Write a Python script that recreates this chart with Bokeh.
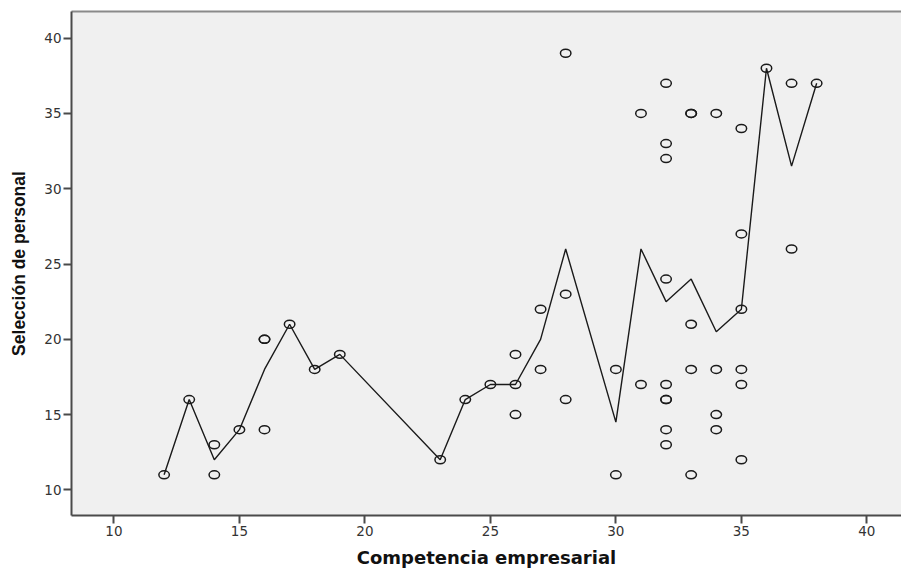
from bokeh.plotting import figure
from bokeh.models import Range1d, FixedTicker, LinearAxis
from bokeh.embed import file_html
from bokeh.resources import INLINE

# ---- data ----
x_points = [12, 13, 14, 14, 15, 16, 16, 16, 17, 18, 19, 23, 24, 25,
            26, 26, 26, 27, 27, 28, 28, 28, 30, 30, 31, 31,
            32, 32, 32, 32, 32, 32, 32, 32, 32,
            33, 33, 33, 33, 33, 34, 34, 34, 34,
            35, 35, 35, 35, 35, 35, 36, 37, 37, 38]
y_points = [11, 16, 13, 11, 14, 20, 20, 14, 21, 18, 19, 12, 16, 17,
            19, 17, 15, 22, 18, 39, 23, 16, 18, 11, 35, 17,
            37, 33, 32, 24, 17, 16, 16, 14, 13,
            35, 35, 21, 18, 11, 35, 18, 15, 14,
            34, 27, 22, 18, 17, 12, 38, 37, 26, 37]

line_x = [12, 13, 14, 15, 16, 17, 18, 19, 23, 24, 25, 26, 27, 28,
          30, 31, 32, 33, 34, 35, 36, 37, 38]
line_y = [11, 16, 12, 14, 18, 21, 18, 19, 12, 16, 17, 17, 20, 26,
          14.5, 26, 22.5, 24, 20.5, 22, 38, 31.5, 37]

x_ticks = [10, 15, 20, 25, 30, 35, 40]
y_ticks = [10, 15, 20, 25, 30, 35, 40]
x_title = "Competencia empresarial"
y_title = "Selección de personal"

p = figure(width=901, height=570, output_backend="svg", toolbar_location=None,
           x_range=Range1d(8.31, 41.38), y_range=Range1d(8.30, 41.77),
           min_border_left=71, min_border_right=0, min_border_top=11,
           min_border_bottom=55)
p.background_fill_color = "#f0f0f0"
p.border_fill_color = "white"
p.outline_line_color = None
p.grid.visible = False

for ax, ticks in ((p.xaxis[0], x_ticks), (p.yaxis[0], y_ticks)):
    ax.ticker = FixedTicker(ticks=ticks, minor_ticks=[])
    ax.axis_line_color = "#4a4a4a"
    ax.axis_line_width = 2
    ax.major_tick_line_color = "#4a4a4a"
    ax.major_tick_line_width = 2
    ax.major_tick_in = 0
    ax.major_tick_out = 8
    ax.minor_tick_line_color = None
    ax.major_label_text_font = "DejaVu Sans"
    ax.major_label_text_font_size = "13.5px"
    ax.major_label_text_color = "#333333"
    ax.major_label_standoff = 2
    ax.axis_label_text_font_style = "bold"
    ax.axis_label_text_color = "#111111"

p.xaxis[0].axis_label = x_title
p.xaxis[0].axis_label_text_font = "DejaVu Sans"
p.xaxis[0].axis_label_text_font_size = "18px"
p.xaxis[0].axis_label_standoff = 8

p.yaxis[0].axis_label = y_title
p.yaxis[0].axis_label_text_font = "Liberation Sans"
p.yaxis[0].axis_label_text_font_size = "17.5px"
p.yaxis[0].axis_label_standoff = 12

top = LinearAxis(ticker=FixedTicker(ticks=[]), axis_line_color="#8a8a8a",
                 axis_line_width=2, major_tick_line_color=None,
                 minor_tick_line_color=None, major_label_standoff=0,
                 major_tick_out=0, major_tick_in=0)
p.add_layout(top, "above")

p.line(line_x, line_y, line_color="#1a1a1a", line_width=1.4)
p.ellipse(x=x_points, y=y_points, width=10.5, height=8,
          width_units="screen", height_units="screen",
          fill_color=None, line_color="#1a1a1a", line_width=1.5)

open("out.html", "w").write(file_html(p, INLINE))
